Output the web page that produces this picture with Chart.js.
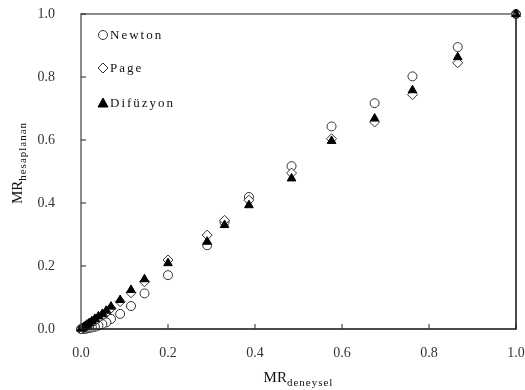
<!DOCTYPE html>
<html>
<head>
<meta charset="utf-8">
<script src="https://cdn.jsdelivr.net/npm/chart.js@4"></script>
<style>
    body { margin: 0; background: #fff; }
</style>
</head>
<body>
<canvas id="myChart" width="525" height="390"></canvas>
<script>
// MR deneysel (x) and calculated MR per model (y)
const mrDeneysel = [1.0, 0.866, 0.762, 0.675, 0.576, 0.484, 0.386, 0.330, 0.290, 0.200, 0.146, 0.115, 0.090, 0.069, 0.058, 0.049, 0.040, 0.032, 0.025, 0.019, 0.014, 0.010, 0.006, 0.003, 0.000]
const newton = [1.0, 0.895, 0.802, 0.717, 0.643, 0.517, 0.419, 0.340, 0.266, 0.171, 0.113, 0.073, 0.048, 0.032, 0.021, 0.016, 0.011, 0.007, 0.005, 0.003, 0.002, 0.001, 0.0005, 0.0002, 0.0]
const page = [1.0, 0.845, 0.744, 0.657, 0.604, 0.495, 0.409, 0.345, 0.298, 0.219, 0.150, 0.115, 0.087, 0.066, 0.052, 0.043, 0.034, 0.026, 0.020, 0.015, 0.011, 0.007, 0.004, 0.002, 0.0]
const difuzyon = [1.0, 0.863, 0.758, 0.668, 0.597, 0.478, 0.393, 0.330, 0.277, 0.209, 0.158, 0.124, 0.092, 0.071, 0.058, 0.048, 0.040, 0.032, 0.025, 0.019, 0.014, 0.010, 0.006, 0.003, 0.001]
const seriesNames = ["Newton", "Page", "Difüzyon"]
const tickValues = [0.0, 0.2, 0.4, 0.6, 0.8, 1.0]

const serif = "'Liberation Serif', 'DejaVu Serif', serif"

const toPoints = (ys) => mrDeneysel.map((x, i) => ({ x: x, y: ys[i] }))

// draws "MR" with a subscript, centred on 0 along the current x direction
const drawSubTitle = (c, sub, baseY) => {
    c.font = `15px ${serif}`
    c.letterSpacing = '0px'
    const mW = c.measureText('MR').width
    c.font = `11px ${serif}`
    c.letterSpacing = '1px'
    const sW = c.measureText(sub).width
    const st = -(mW + sW) / 2
    c.font = `15px ${serif}`
    c.letterSpacing = '0px'
    c.fillText('MR', st, baseY)
    c.font = `11px ${serif}`
    c.letterSpacing = '1px'
    c.fillText(sub, st + mW, baseY + 4)
    c.letterSpacing = '0px'
}

// frame, inward ticks, axis titles with subscripts, legend inside the plot
const extras = {
    id: 'extras',
    afterDraw: (chart) => {
        const c = chart.ctx
        const a = chart.chartArea
        const xs = chart.scales.x
        const ys = chart.scales.y
        c.save()
        c.lineWidth = 1.5
        c.strokeStyle = '#666'
        c.beginPath()
        c.moveTo(a.left, a.bottom)
        c.lineTo(a.left, a.top)
        c.lineTo(a.right, a.top)
        c.stroke()
        c.strokeStyle = '#111'
        c.beginPath()
        c.moveTo(a.right, a.top)
        c.lineTo(a.right, a.bottom)
        c.lineTo(a.left, a.bottom)
        c.stroke()

        c.lineWidth = 1
        c.strokeStyle = '#222'
        tickValues.forEach((v) => {
            const px = xs.getPixelForValue(v)
            c.beginPath()
            c.moveTo(px, a.bottom)
            c.lineTo(px, a.bottom - 5)
            c.stroke()
            const py = ys.getPixelForValue(v)
            c.beginPath()
            c.moveTo(a.left, py)
            c.lineTo(a.left + 5, py)
            c.stroke()
        })

        // axis titles
        c.fillStyle = '#111'
        c.textBaseline = 'alphabetic'
        c.save()
        c.translate((a.left + a.right) / 2, 0)
        drawSubTitle(c, 'deneysel', 382)
        c.restore()

        c.save()
        c.translate(22, 163)
        c.rotate(-Math.PI / 2)
        drawSubTitle(c, 'hesaplanan', 0)
        c.restore()

        // legend
        const rows = [35, 68, 103]
        chart.data.datasets.forEach((ds, i) => {
            const cy = rows[i]
            c.fillStyle = ds.backgroundColor
            c.strokeStyle = ds.borderColor
            c.lineWidth = 1
            c.beginPath()
            if (ds.pointStyle === 'circle') {
                c.arc(103, cy, 4.5, 0, Math.PI * 2)
            } else if (ds.pointStyle === 'rectRot') {
                c.moveTo(103, cy - 5)
                c.lineTo(108, cy)
                c.lineTo(103, cy + 5)
                c.lineTo(98, cy)
                c.closePath()
            } else {
                c.moveTo(103, cy - 5)
                c.lineTo(108, cy + 4)
                c.lineTo(98, cy + 4)
                c.closePath()
            }
            c.fill()
            c.stroke()
            c.fillStyle = '#111'
            c.font = `13px ${serif}`
            c.letterSpacing = '2px'
            c.textBaseline = 'middle'
            c.fillText(ds.label, 110, cy + 1)
            c.letterSpacing = '0px'
        })
        c.restore()
    }
}

var chart = new Chart(document.getElementById('myChart'), {
    type: 'scatter',
    data: {
        datasets: [
            {
                label: seriesNames[0],
                data: toPoints(newton),
                pointStyle: 'circle',
                pointRadius: 4.5,
                backgroundColor: '#fff',
                borderColor: '#333',
                borderWidth: 1,
                order: 2
            },
            {
                label: seriesNames[1],
                data: toPoints(page),
                pointStyle: 'rectRot',
                pointRadius: 5,
                backgroundColor: '#fff',
                borderColor: '#333',
                borderWidth: 1,
                order: 1
            },
            {
                label: seriesNames[2],
                data: toPoints(difuzyon),
                pointStyle: 'triangle',
                pointRadius: 5,
                backgroundColor: '#000',
                borderColor: '#000',
                borderWidth: 1,
                order: 0
            },
        ]
    },
    options: {
        responsive: false,
        animation: false,
        clip: false,
        layout: { autoPadding: false, padding: { top: 14, right: 9, left: 0, bottom: 0 } },
        plugins: {
            legend: { display: false },
            tooltip: { enabled: false }
        },
        scales: {
            x: {
                type: 'linear',
                min: 0,
                max: 1,
                afterFit: (s) => { s.height = 61 },
                grid: { display: false, drawTicks: true, tickLength: 16 },
                border: { display: false },
                ticks: {
                    stepSize: 0.2,
                    padding: 0,
                    color: '#333',
                    font: { family: serif, size: 14 },
                    callback: (v) => v.toFixed(1)
                }
            },
            y: {
                type: 'linear',
                min: 0,
                max: 1,
                afterFit: (s) => { s.width = 81 },
                grid: { display: false, drawTicks: true, tickLength: 26 },
                border: { display: false },
                ticks: {
                    stepSize: 0.2,
                    padding: 0,
                    color: '#333',
                    font: { family: serif, size: 14 },
                    callback: (v) => v.toFixed(1)
                }
            }
        }
    },
    plugins: [extras]
});
</script>
</body>
</html>
